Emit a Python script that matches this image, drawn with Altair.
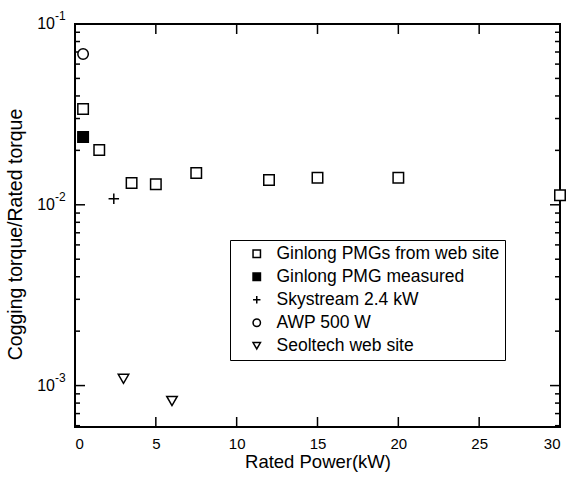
import altair as alt
import pandas as pd

# ---- data ----
series_names = ["Ginlong PMGs from web site", "Ginlong PMG measured",
                "Skystream 2.4 kW", "AWP 500 W", "Seoltech web site"]

ginlong_web_x = [0.5, 1.5, 3.5, 5, 7.5, 12, 15, 20, 30]
ginlong_web_y = [0.0339, 0.0201, 0.0132, 0.0130, 0.0150, 0.0137, 0.0141, 0.0141, 0.0113]
ginlong_meas_x = [0.5]
ginlong_meas_y = [0.0237]
skystream_x = [2.4]
skystream_y = [0.0108]
awp_x = [0.5]
awp_y = [0.0682]
seoltech_x = [3, 6]
seoltech_y = [0.00109, 0.000822]

x_ticks = [0, 5, 10, 15, 20, 25, 30]
x_inner_ticks = [5, 10, 15, 20, 25]
y_major = [0.001, 0.01, 0.1]
y_exps = ["-3", "-2", "-1"]
y_minor = [6e-4, 7e-4, 8e-4, 9e-4,
           2e-3, 3e-3, 4e-3, 5e-3, 6e-3, 7e-3, 8e-3, 9e-3,
           2e-2, 3e-2, 4e-2, 5e-2, 6e-2, 7e-2, 8e-2, 9e-2]

rows = []
for name, xs, ys in zip(series_names,
                        [ginlong_web_x, ginlong_meas_x, skystream_x, awp_x, seoltech_x],
                        [ginlong_web_y, ginlong_meas_y, skystream_y, awp_y, seoltech_y]):
    for a, b in zip(xs, ys):
        rows.append({"series": name, "x": a, "y": b})
df = pd.DataFrame(rows)

W, H = 485, 403
FONT = "Liberation Sans"

xscale = alt.Scale(domain=[0, 30], nice=False, zero=False)
yscale = alt.Scale(type="log", domain=[5.9e-4, 0.1], nice=False)

shape_range = ["square", "square", "M-1,0L1,0M0,-1L0,1", "circle", "triangle-down"]
fill_range = ["white", "black", "white", "white", "white"]
stroke_range = ["black"] * 5

legend_kw = dict(title=None, orient="none", legendX=155, legendY=216,
                 padding=5, symbolOffset=13, labelOffset=11, labelLimit=0,
                 strokeColor="black", labelFont=FONT, labelFontSize=17.5,
                 symbolSize=55, symbolStrokeWidth=1.5,
                 rowPadding=4, labelColor="black")

points = alt.Chart(df).mark_point(filled=True, opacity=1,
                                  strokeWidth=1.5, size=110, clip=False).encode(
    x=alt.X("x:Q", scale=xscale,
            axis=alt.Axis(values=x_ticks, ticks=False, domain=False, grid=False,
                          labelFont=FONT, labelFontSize=15, labelPadding=9,
                          labelColor="black", title="Rated Power(kW)",
                          titleFont=FONT, titleFontSize=18.5, titleFontWeight="normal",
                          titlePadding=1, titleColor="black")),
    y=alt.Y("y:Q", scale=yscale,
            axis=alt.Axis(labels=False, ticks=False, domain=False, grid=False,
                          title="Cogging torque/Rated torque", titleFont=FONT,
                          titleFontSize=19.5, titleFontWeight="normal",
                          titlePadding=50, titleX=-50, titleY=210,
                          titleColor="black")),
    shape=alt.Shape("series:N", scale=alt.Scale(domain=series_names, range=shape_range),
                    legend=alt.Legend(**legend_kw)),
    fill=alt.Fill("series:N", scale=alt.Scale(domain=series_names, range=fill_range),
                  legend=alt.Legend(**legend_kw)),
    stroke=alt.Stroke("series:N", scale=alt.Scale(domain=series_names, range=stroke_range),
                      legend=alt.Legend(**legend_kw)),
)

xt = pd.DataFrame({"x": x_inner_ticks})
ymaj = pd.DataFrame({"y": y_major, "e": y_exps, "b": ["10"] * 3})
ymin = pd.DataFrame({"y": y_minor})

tick_style = dict(color="black", strokeWidth=1.5)
bottom_ticks = alt.Chart(xt).mark_rule(**tick_style).encode(
    x=alt.X("x:Q", scale=xscale), y=alt.value(H), y2=alt.value(H - 10))
top_ticks = alt.Chart(xt).mark_rule(**tick_style).encode(
    x=alt.X("x:Q", scale=xscale), y=alt.value(0), y2=alt.value(10))
left_major = alt.Chart(ymaj).mark_rule(**tick_style).encode(
    y=alt.Y("y:Q", scale=yscale), x=alt.value(0), x2=alt.value(10))
right_major = alt.Chart(ymaj).mark_rule(**tick_style).encode(
    y=alt.Y("y:Q", scale=yscale), x=alt.value(W), x2=alt.value(W - 10))
left_minor = alt.Chart(ymin).mark_rule(**tick_style).encode(
    y=alt.Y("y:Q", scale=yscale), x=alt.value(0), x2=alt.value(5))
right_minor = alt.Chart(ymin).mark_rule(**tick_style).encode(
    y=alt.Y("y:Q", scale=yscale), x=alt.value(W), x2=alt.value(W - 5))

base_lbl = alt.Chart(ymaj).mark_text(align="right", baseline="middle", font=FONT,
                                     fontSize=16, color="black").encode(
    y=alt.Y("y:Q", scale=yscale), x=alt.value(-20), text="b:N")
exp_lbl = alt.Chart(ymaj).mark_text(align="left", baseline="middle", font=FONT,
                                    fontSize=12, color="black", dy=-8).encode(
    y=alt.Y("y:Q", scale=yscale), x=alt.value(-20), text="e:N")

chart = alt.layer(
    bottom_ticks, top_ticks, left_major, right_major, left_minor, right_minor,
    points, base_lbl, exp_lbl
).properties(
    width=W, height=H,
    autosize=alt.AutoSizeParams(type="none"),
    padding={"left": 75, "top": 24, "right": 8, "bottom": 52},
    background="white",
).configure_view(stroke="black", strokeWidth=2)

chart.save("out.html", embed_options={"renderer": "svg", "actions": False})
